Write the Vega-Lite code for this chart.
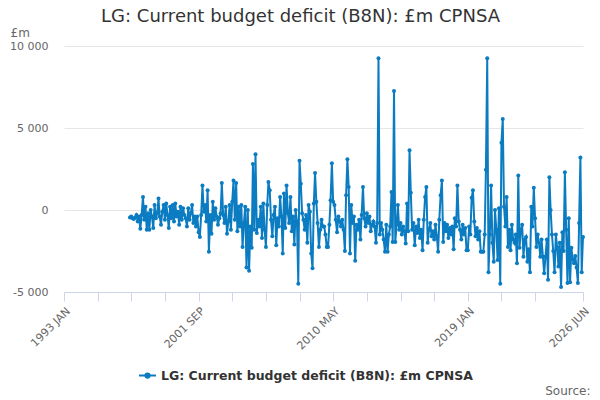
{
  "$schema": "https://vega.github.io/schema/vega-lite/v6.json",
  "width": 519,
  "height": 246,
  "autosize": {"type": "none"},
  "padding": {"left": 64, "top": 46, "right": 17, "bottom": 108},
  "background": "white",
  "title": {
    "text": "LG: Current budget deficit (B8N): £m CPNSA",
    "font": "DejaVu Sans",
    "fontSize": 18,
    "fontWeight": "normal",
    "color": "#333333",
    "anchor": "middle",
    "frame": "group",
    "dx": -23,
    "offset": 0
  },
  "config": {
    "view": {"stroke": null},
    "font": "DejaVu Sans"
  },
  "data": {
    "values": [
      {"d": "1997-04", "v": -450}, {"d": "1997-05", "v": -400}, {"d": "1997-06", "v": -500}, {"d": "1997-07", "v": -550}, {"d": "1997-08", "v": -450}, {"d": "1997-09", "v": -300}, {"d": "1997-10", "v": -700}, {"d": "1997-11", "v": -400}, {"d": "1997-12", "v": -1150},
      {"d": "1998-01", "v": -300}, {"d": "1998-02", "v": 800}, {"d": "1998-03", "v": -600}, {"d": "1998-04", "v": 200}, {"d": "1998-05", "v": -1200}, {"d": "1998-06", "v": -200}, {"d": "1998-07", "v": -1200}, {"d": "1998-08", "v": 0}, {"d": "1998-09", "v": -400}, {"d": "1998-10", "v": -1100}, {"d": "1998-11", "v": 300}, {"d": "1998-12", "v": -500},
      {"d": "1999-01", "v": -200}, {"d": "1999-02", "v": 700}, {"d": "1999-03", "v": -400}, {"d": "1999-04", "v": -900}, {"d": "1999-05", "v": -100}, {"d": "1999-06", "v": 300}, {"d": "1999-07", "v": -600}, {"d": "1999-08", "v": 400}, {"d": "1999-09", "v": -300}, {"d": "1999-10", "v": -1100}, {"d": "1999-11", "v": 200}, {"d": "1999-12", "v": -500},
      {"d": "2000-01", "v": 300}, {"d": "2000-02", "v": -700}, {"d": "2000-03", "v": 400}, {"d": "2000-04", "v": -400}, {"d": "2000-05", "v": -100}, {"d": "2000-06", "v": -900}, {"d": "2000-07", "v": 200}, {"d": "2000-08", "v": -600}, {"d": "2000-09", "v": 100}, {"d": "2000-10", "v": -300}, {"d": "2000-11", "v": -500}, {"d": "2000-12", "v": -1000},
      {"d": "2001-01", "v": 100}, {"d": "2001-02", "v": -600}, {"d": "2001-03", "v": -200}, {"d": "2001-04", "v": 300}, {"d": "2001-05", "v": -800}, {"d": "2001-06", "v": -400}, {"d": "2001-07", "v": -1000}, {"d": "2001-08", "v": -400}, {"d": "2001-09", "v": -1350}, {"d": "2001-10", "v": -1650}, {"d": "2001-11", "v": -300}, {"d": "2001-12", "v": 1500},
      {"d": "2002-01", "v": -100}, {"d": "2002-02", "v": 300}, {"d": "2002-03", "v": -700}, {"d": "2002-04", "v": 1200}, {"d": "2002-05", "v": -2550}, {"d": "2002-06", "v": -300}, {"d": "2002-07", "v": -1450}, {"d": "2002-08", "v": 500}, {"d": "2002-09", "v": -600}, {"d": "2002-10", "v": 100}, {"d": "2002-11", "v": -400}, {"d": "2002-12", "v": -900},
      {"d": "2003-01", "v": -500}, {"d": "2003-02", "v": -200}, {"d": "2003-03", "v": 1650}, {"d": "2003-04", "v": -300}, {"d": "2003-05", "v": -800}, {"d": "2003-06", "v": 200}, {"d": "2003-07", "v": -1450}, {"d": "2003-08", "v": -700}, {"d": "2003-09", "v": 300}, {"d": "2003-10", "v": -1200}, {"d": "2003-11", "v": 500}, {"d": "2003-12", "v": 1800},
      {"d": "2004-01", "v": -600}, {"d": "2004-02", "v": 1650}, {"d": "2004-03", "v": -1300}, {"d": "2004-04", "v": 200}, {"d": "2004-05", "v": -1000}, {"d": "2004-06", "v": 300}, {"d": "2004-07", "v": -2250}, {"d": "2004-08", "v": -800}, {"d": "2004-09", "v": 200}, {"d": "2004-10", "v": -3500}, {"d": "2004-11", "v": 0}, {"d": "2004-12", "v": -3700},
      {"d": "2005-01", "v": -1000}, {"d": "2005-02", "v": -2300}, {"d": "2005-03", "v": 2800}, {"d": "2005-04", "v": -1200}, {"d": "2005-05", "v": 3400}, {"d": "2005-06", "v": -1400}, {"d": "2005-07", "v": -600}, {"d": "2005-08", "v": -1000}, {"d": "2005-09", "v": 200}, {"d": "2005-10", "v": -1700}, {"d": "2005-11", "v": 400}, {"d": "2005-12", "v": -1200},
      {"d": "2006-01", "v": -2250}, {"d": "2006-02", "v": 300}, {"d": "2006-03", "v": 1700}, {"d": "2006-04", "v": 1200}, {"d": "2006-05", "v": -600}, {"d": "2006-06", "v": -1600}, {"d": "2006-07", "v": -300}, {"d": "2006-08", "v": 200}, {"d": "2006-09", "v": -2150}, {"d": "2006-10", "v": -500}, {"d": "2006-11", "v": -1000}, {"d": "2006-12", "v": 800},
      {"d": "2007-01", "v": -400}, {"d": "2007-02", "v": -2650}, {"d": "2007-03", "v": 1000}, {"d": "2007-04", "v": -1100}, {"d": "2007-05", "v": 1500}, {"d": "2007-06", "v": -200}, {"d": "2007-07", "v": -800}, {"d": "2007-08", "v": 800}, {"d": "2007-09", "v": -1300}, {"d": "2007-10", "v": -400}, {"d": "2007-11", "v": -2100}, {"d": "2007-12", "v": 0},
      {"d": "2008-01", "v": -700}, {"d": "2008-02", "v": -4500}, {"d": "2008-03", "v": 3000}, {"d": "2008-04", "v": 1600}, {"d": "2008-05", "v": -200}, {"d": "2008-06", "v": -600}, {"d": "2008-07", "v": -1200}, {"d": "2008-08", "v": -300}, {"d": "2008-09", "v": -2000}, {"d": "2008-10", "v": 300}, {"d": "2008-11", "v": -100}, {"d": "2008-12", "v": -2650},
      {"d": "2009-01", "v": -3550}, {"d": "2009-02", "v": 400}, {"d": "2009-03", "v": 2250}, {"d": "2009-04", "v": 500}, {"d": "2009-05", "v": -800}, {"d": "2009-06", "v": -2250}, {"d": "2009-07", "v": -1200}, {"d": "2009-08", "v": -600}, {"d": "2009-09", "v": -1000}, {"d": "2009-10", "v": -1000}, {"d": "2009-11", "v": -1500}, {"d": "2009-12", "v": -2250},
      {"d": "2010-01", "v": -2250}, {"d": "2010-02", "v": -900}, {"d": "2010-03", "v": 600}, {"d": "2010-04", "v": 2850}, {"d": "2010-05", "v": 500}, {"d": "2010-06", "v": 300}, {"d": "2010-07", "v": -600}, {"d": "2010-08", "v": -1350}, {"d": "2010-09", "v": -400}, {"d": "2010-10", "v": -700}, {"d": "2010-11", "v": -1000}, {"d": "2010-12", "v": -600},
      {"d": "2011-01", "v": -1200}, {"d": "2011-02", "v": -2500}, {"d": "2011-03", "v": 900}, {"d": "2011-04", "v": 3100}, {"d": "2011-05", "v": 1400}, {"d": "2011-06", "v": -2650}, {"d": "2011-07", "v": 300}, {"d": "2011-08", "v": -800}, {"d": "2011-09", "v": -400}, {"d": "2011-10", "v": -3100}, {"d": "2011-11", "v": -900}, {"d": "2011-12", "v": -1200},
      {"d": "2012-01", "v": -600}, {"d": "2012-02", "v": -1800}, {"d": "2012-03", "v": -300}, {"d": "2012-04", "v": 1400}, {"d": "2012-05", "v": -500}, {"d": "2012-06", "v": -1000}, {"d": "2012-07", "v": -200}, {"d": "2012-08", "v": -800}, {"d": "2012-09", "v": -400}, {"d": "2012-10", "v": -1300}, {"d": "2012-11", "v": -900}, {"d": "2012-12", "v": -700},
      {"d": "2013-01", "v": -1000}, {"d": "2013-02", "v": -2000}, {"d": "2013-03", "v": -800}, {"d": "2013-04", "v": 9250}, {"d": "2013-05", "v": -1500}, {"d": "2013-06", "v": -800}, {"d": "2013-07", "v": -1200}, {"d": "2013-08", "v": -1800}, {"d": "2013-09", "v": -2550}, {"d": "2013-10", "v": -900}, {"d": "2013-11", "v": -2550}, {"d": "2013-12", "v": -1500},
      {"d": "2014-01", "v": -1000}, {"d": "2014-02", "v": 1100}, {"d": "2014-03", "v": -1950}, {"d": "2014-04", "v": 7250}, {"d": "2014-05", "v": -1950}, {"d": "2014-06", "v": -900}, {"d": "2014-07", "v": 300}, {"d": "2014-08", "v": -1200}, {"d": "2014-09", "v": -800}, {"d": "2014-10", "v": -1500}, {"d": "2014-11", "v": -1000}, {"d": "2014-12", "v": -1300},
      {"d": "2015-01", "v": -2050}, {"d": "2015-02", "v": 400}, {"d": "2015-03", "v": -1300}, {"d": "2015-04", "v": 3650}, {"d": "2015-05", "v": 1050}, {"d": "2015-06", "v": -1200}, {"d": "2015-07", "v": -800}, {"d": "2015-08", "v": -2150}, {"d": "2015-09", "v": -1000}, {"d": "2015-10", "v": -1400}, {"d": "2015-11", "v": -600}, {"d": "2015-12", "v": -1700},
      {"d": "2016-01", "v": -1200}, {"d": "2016-02", "v": -2450}, {"d": "2016-03", "v": -600}, {"d": "2016-04", "v": 800}, {"d": "2016-05", "v": 1400}, {"d": "2016-06", "v": -2000}, {"d": "2016-07", "v": -1200}, {"d": "2016-08", "v": -800}, {"d": "2016-09", "v": -1600}, {"d": "2016-10", "v": -1300}, {"d": "2016-11", "v": -1800}, {"d": "2016-12", "v": -900},
      {"d": "2017-01", "v": -1600}, {"d": "2017-02", "v": -2550}, {"d": "2017-03", "v": -600}, {"d": "2017-04", "v": 900}, {"d": "2017-05", "v": 1800}, {"d": "2017-06", "v": -1950}, {"d": "2017-07", "v": -800}, {"d": "2017-08", "v": -1300}, {"d": "2017-09", "v": -900}, {"d": "2017-10", "v": -1700}, {"d": "2017-11", "v": -1100}, {"d": "2017-12", "v": -1500},
      {"d": "2018-01", "v": -1000}, {"d": "2018-02", "v": -2400}, {"d": "2018-03", "v": -500}, {"d": "2018-04", "v": -1000}, {"d": "2018-05", "v": 1500}, {"d": "2018-06", "v": -700}, {"d": "2018-07", "v": -1200}, {"d": "2018-08", "v": -1800}, {"d": "2018-09", "v": -900}, {"d": "2018-10", "v": -1500}, {"d": "2018-11", "v": -1100}, {"d": "2018-12", "v": -2450},
      {"d": "2019-01", "v": -2450}, {"d": "2019-02", "v": -1000}, {"d": "2019-03", "v": -1500}, {"d": "2019-04", "v": 750}, {"d": "2019-05", "v": 1200}, {"d": "2019-06", "v": -700}, {"d": "2019-07", "v": -1600}, {"d": "2019-08", "v": -1100}, {"d": "2019-09", "v": -1800}, {"d": "2019-10", "v": -1300}, {"d": "2019-11", "v": -2550}, {"d": "2019-12", "v": -2550},
      {"d": "2020-01", "v": -2550}, {"d": "2020-02", "v": -1500}, {"d": "2020-03", "v": 2450}, {"d": "2020-04", "v": 9250}, {"d": "2020-05", "v": -3800}, {"d": "2020-06", "v": -1500}, {"d": "2020-07", "v": 1500}, {"d": "2020-08", "v": -2000}, {"d": "2020-09", "v": -3150}, {"d": "2020-10", "v": 0}, {"d": "2020-11", "v": -1200}, {"d": "2020-12", "v": -3050},
      {"d": "2021-01", "v": 100}, {"d": "2021-02", "v": -4500}, {"d": "2021-03", "v": 4100}, {"d": "2021-04", "v": 5550}, {"d": "2021-05", "v": 200}, {"d": "2021-06", "v": -1000}, {"d": "2021-07", "v": 800}, {"d": "2021-08", "v": -2250}, {"d": "2021-09", "v": -1200}, {"d": "2021-10", "v": -2450}, {"d": "2021-11", "v": -900}, {"d": "2021-12", "v": -1800},
      {"d": "2022-01", "v": -2000}, {"d": "2022-02", "v": -1500}, {"d": "2022-03", "v": -3250}, {"d": "2022-04", "v": 2100}, {"d": "2022-05", "v": -2300}, {"d": "2022-06", "v": -1200}, {"d": "2022-07", "v": -900}, {"d": "2022-08", "v": -2850}, {"d": "2022-09", "v": -1800}, {"d": "2022-10", "v": -1650}, {"d": "2022-11", "v": -3150}, {"d": "2022-12", "v": -2400},
      {"d": "2023-01", "v": -3800}, {"d": "2023-02", "v": 200}, {"d": "2023-03", "v": -1000}, {"d": "2023-04", "v": 1350}, {"d": "2023-05", "v": -500}, {"d": "2023-06", "v": -2250}, {"d": "2023-07", "v": -1500}, {"d": "2023-08", "v": -2000}, {"d": "2023-09", "v": -2850}, {"d": "2023-10", "v": -1800}, {"d": "2023-11", "v": -2850}, {"d": "2023-12", "v": -3850},
      {"d": "2024-01", "v": -2850}, {"d": "2024-02", "v": -1800}, {"d": "2024-03", "v": -4250}, {"d": "2024-04", "v": 2000}, {"d": "2024-05", "v": 0}, {"d": "2024-06", "v": -1500}, {"d": "2024-07", "v": -2500}, {"d": "2024-08", "v": -3800}, {"d": "2024-09", "v": -1500}, {"d": "2024-10", "v": -2250}, {"d": "2024-11", "v": -3450}, {"d": "2024-12", "v": -2000},
      {"d": "2025-01", "v": -4700}, {"d": "2025-02", "v": -1350}, {"d": "2025-03", "v": -2500}, {"d": "2025-04", "v": 2300}, {"d": "2025-05", "v": -1200}, {"d": "2025-06", "v": -4450}, {"d": "2025-07", "v": -500}, {"d": "2025-08", "v": -4400}, {"d": "2025-09", "v": -2300}, {"d": "2025-10", "v": -3000}, {"d": "2025-11", "v": -3250}, {"d": "2025-12", "v": -2800},
      {"d": "2026-01", "v": -3500}, {"d": "2026-02", "v": -4450}, {"d": "2026-03", "v": -800}, {"d": "2026-04", "v": 3200}, {"d": "2026-05", "v": -3800}, {"d": "2026-06", "v": -1650}
    ]
  },
  "mark": {"type": "line", "strokeWidth": 2, "point": {"filled": true, "size": 16}},
  "encoding": {
    "x": {
      "field": "d",
      "type": "temporal",
      "scale": {
        "type": "utc",
        "domain": [{"year": 1993, "month": 1, "date": 1, "utc": true}, {"year": 2026, "month": 6, "date": 1, "utc": true}]
      },
      "axis": {
        "values": [
          {"year": 1993, "month": 1, "date": 1, "utc": true},
          {"year": 1995, "month": 3, "date": 1, "utc": true},
          {"year": 1997, "month": 5, "date": 1, "utc": true},
          {"year": 1999, "month": 7, "date": 1, "utc": true},
          {"year": 2001, "month": 9, "date": 1, "utc": true},
          {"year": 2003, "month": 11, "date": 1, "utc": true},
          {"year": 2006, "month": 1, "date": 1, "utc": true},
          {"year": 2008, "month": 3, "date": 1, "utc": true},
          {"year": 2010, "month": 5, "date": 1, "utc": true},
          {"year": 2012, "month": 7, "date": 1, "utc": true},
          {"year": 2014, "month": 9, "date": 1, "utc": true},
          {"year": 2016, "month": 11, "date": 1, "utc": true},
          {"year": 2019, "month": 1, "date": 1, "utc": true},
          {"year": 2021, "month": 3, "date": 1, "utc": true},
          {"year": 2023, "month": 5, "date": 1, "utc": true},
          {"year": 2026, "month": 6, "date": 1, "utc": true}
        ],
        "labelExpr": "indexof(['1993-01','2001-09','2010-05','2019-01','2026-06'], utcFormat(datum.value, '%Y-%m')) >= 0 ? upper(utcFormat(datum.value, '%Y %b')) : ''",
        "labelAngle": -45,
        "labelColor": "#666666",
        "labelFontSize": 11,
        "labelPadding": 4,
        "labelOverlap": false,
        "labelFlush": false,
        "domainColor": "#ccd6eb",
        "tickColor": "#ccd6eb",
        "tickSize": 9,
        "grid": false,
        "title": "Source:",
        "titleFontWeight": "normal",
        "titleFontSize": 12,
        "titleColor": "#666666",
        "titleAnchor": "end",
        "titleAlign": "right",
        "titleX": 526,
        "titleY": 98,
        "titleBaseline": "middle"
      }
    },
    "y": {
      "field": "v",
      "type": "quantitative",
      "scale": {"domain": [-5000, 10000], "nice": false},
      "axis": {
        "values": [-5000, 0, 5000, 10000],
        "labelExpr": "datum.value == 0 ? '0' : (datum.value < 0 ? '-' : '') + replace(format(abs(datum.value), ','), ',', ' ')",
        "labelColor": "#666666",
        "labelFontSize": 11,
        "labelPadding": 16,
        "domain": false,
        "ticks": false,
        "gridColor": "#e6e6e6",
        "title": "£m",
        "titleFontWeight": "normal",
        "titleFontSize": 12,
        "titleColor": "#666666",
        "titleAngle": 0,
        "titleAlign": "left",
        "titleBaseline": "middle",
        "titleX": -54,
        "titleY": -14
      }
    },
    "color": {
      "datum": "LG: Current budget deficit (B8N): £m CPNSA",
      "type": "nominal",
      "scale": {"range": ["#0b7cc1"]},
      "legend": {
        "title": null,
        "orient": "none",
        "legendX": 74,
        "legendY": 320,
        "labelFontSize": 12.5,
        "labelFontWeight": "bold",
        "labelColor": "#333333",
        "labelLimit": 0,
        "symbolType": "M-1,0H-0.25M0.25,0H1M-0.25,0A0.25,0.25,0,1,1,0.25,0A0.25,0.25,0,1,1,-0.25,0Z",
        "symbolFillColor": "#0b7cc1",
        "symbolStrokeColor": "#0b7cc1",
        "symbolStrokeWidth": 2,
        "symbolSize": 289
      }
    }
  }
}
